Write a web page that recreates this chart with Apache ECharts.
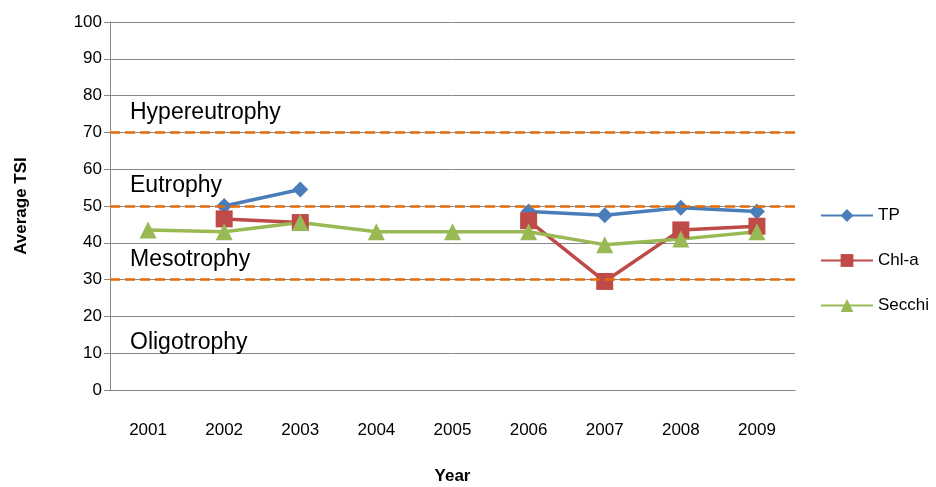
<!DOCTYPE html>
<html>
<head>
<meta charset="utf-8">
<script src="https://cdn.jsdelivr.net/npm/echarts@6/dist/echarts.min.js"></script>
<style>html,body{margin:0;padding:0;background:#fff}#chart{width:936px;height:487px}</style>
</head>
<body>
<div id="chart"></div>
<script>
var years = ['2001', '2002', '2003', '2004', '2005', '2006', '2007', '2008', '2009'];
var tp = [null, 50, 54.5, null, null, 48.5, 47.5, 49.5, 48.5];
var chla = [null, 46.5, 45.5, null, null, 46, 29.5, 43.5, 44.5];
var secchi = [43.5, 43, 45.5, 43, 43, 43, 39.5, 41, 43];
var thresholds = [30, 50, 70];
var zones = [['Hypereutrophy', 75], ['Eutrophy', 55], ['Mesotrophy', 35], ['Oligotrophy', 12.5]];

var font = 'Liberation Sans';
var chart = echarts.init(document.getElementById('chart'));
var option = {
    animation: false,
    textStyle: {fontFamily: font},
    grid: {left: 110, top: 22, width: 685, height: 368, outerBoundsMode: 'none', containLabel: false},
    legend: {
        orient: 'vertical', left: 815, top: 202, itemGap: 28, itemWidth: 52, itemHeight: 16,
        textStyle: {fontSize: 17, color: '#000', fontFamily: font},
        data: ['TP', 'Chl-a', 'Secchi']
    },
    xAxis: {
        type: 'category', data: years, name: 'Year', nameLocation: 'middle', nameGap: 78,
        nameTextStyle: {fontSize: 17, fontWeight: 'bold', color: '#000'},
        axisLine: {lineStyle: {color: '#888'}},
        axisTick: {length: 22, lineStyle: {color: '#888'}},
        axisLabel: {fontSize: 17, color: '#000', margin: 32}
    },
    yAxis: {
        type: 'value', min: 0, max: 100, interval: 10, name: 'Average TSI',
        nameLocation: 'middle', nameGap: 80,
        nameTextStyle: {fontSize: 17, fontWeight: 'bold', color: '#000'},
        axisLine: {show: true, lineStyle: {color: '#888'}},
        axisTick: {show: true, length: 6, lineStyle: {color: '#888'}},
        axisLabel: {fontSize: 17, color: '#000'},
        splitLine: {lineStyle: {color: '#888'}}
    },
    series: [
        {
            name: 'TP', type: 'line', data: tp, symbol: 'diamond', symbolSize: 16,
            itemStyle: {color: '#4a7ebb'}, lineStyle: {width: 3.5, color: '#4a7ebb'},
            markLine: {
                silent: true, symbol: 'none', label: {show: false},
                lineStyle: {color: '#e46c0a', type: 'dashed', width: 2.5},
                data: thresholds.map(function (v) { return {yAxis: v}; })
            }
        },
        {
            name: 'Chl-a', type: 'line', data: chla, symbol: 'rect', symbolSize: 17,
            itemStyle: {color: '#be4b48'}, lineStyle: {width: 3.5, color: '#be4b48'}
        },
        {
            name: 'Secchi', type: 'line', data: secchi, symbol: 'triangle', symbolSize: 17,
            itemStyle: {color: '#98b954'}, lineStyle: {width: 3.5, color: '#98b954'}
        }
    ]
};
chart.setOption(option);

chart.setOption({
    graphic: zones.map(function (z) {
        var p = chart.convertToPixel({gridIndex: 0}, ['2001', z[1]]);
        return {
            type: 'text', left: 130, top: p[1] - 13,
            style: {text: z[0], fontSize: 23, fill: '#000', fontFamily: font}
        };
    })
});
</script>
</body>
</html>
